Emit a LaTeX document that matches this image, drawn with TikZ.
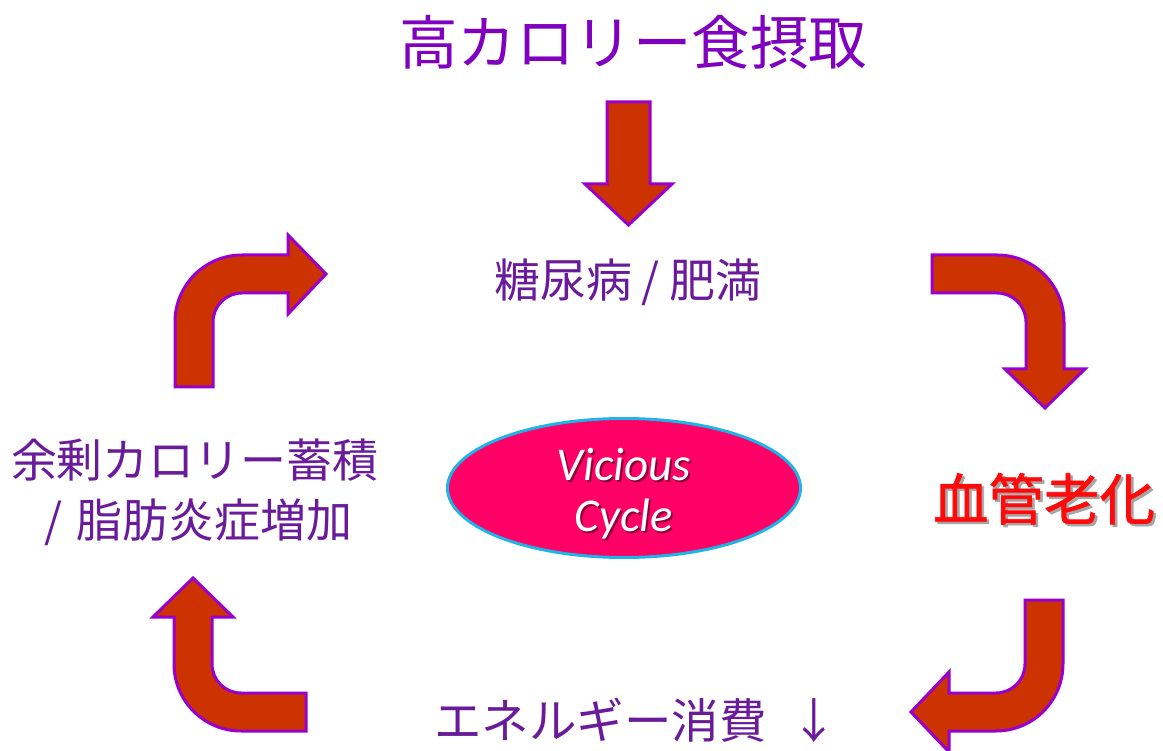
\documentclass[tikz,border=0pt]{standalone}
\usepackage{fontspec}
\usetikzlibrary{shapes.geometric}
\newfontfamily\jpfont{Noto Sans CJK JP}
\newfontfamily\jpbold[FakeBold=1.2]{Noto Sans CJK JP}
\newfontfamily\carlitofont{Carlito}
\definecolor{titlepurple}{HTML}{8000C0}
\definecolor{txtpurple}{HTML}{6A1B9A}
\definecolor{arrowred}{HTML}{CC3300}
\definecolor{arrowedge}{HTML}{9900CC}
\definecolor{ellfill}{HTML}{FF0066}
\definecolor{ellborder}{HTML}{1EB4E8}
\definecolor{redtxt}{HTML}{FF0A0A}
\newcommand{\shadowtext}[3]{\makebox[0pt][l]{\raisebox{-#1}{\hspace{#1}\textcolor{#2}{#3}}}#3}
\tikzset{
  blockarrow/.style={fill=arrowred, draw=arrowedge, line width=3pt, line join=miter},
  purpletext/.style={inner sep=0pt, text=txtpurple, font=\jpfont\fontsize{46}{60}\selectfont, align=center},
}
\begin{document}
\begin{tikzpicture}[x=1pt,y=-1pt]
\useasboundingbox (0,0) rectangle (1163,751);

% title
\node[inner sep=0pt, text=titlepurple, font=\jpfont\fontsize{58.5}{70}\selectfont] (title) at (633,42) {高カロリー食摂取};

% down arrow
\draw[blockarrow] (607,102) -- (650,102) -- (650,184) -- (672,184) -- (628.5,225) -- (585,184) -- (607,184) -- cycle;

% middle top text
\node[purpletext] (top) at (628,282) {糖尿病\hspace{0.2em}/\hspace{0.2em}肥満};

% top right arrow
\draw[blockarrow] (932,255) -- (997,255) arc[start angle=270,end angle=360,radius=67]
  -- (1064,369) -- (1085,369) -- (1045,408) -- (1005,369) -- (1026,369) -- (1026,322)
  arc[start angle=0,end angle=-90,radius=29] -- (932,293) -- cycle;

% red text
\node[inner sep=0pt, text=redtxt, font=\jpbold\fontsize{55.5}{66}\selectfont] (red) at (1044,500) {\shadowtext{2.5pt}{black!35}{血管老化}};

% bottom right arrow
\draw[blockarrow] (1025,600) -- (1063,600) -- (1063,664) arc[start angle=0,end angle=90,radius=67]
  -- (949,731) -- (949,752) -- (911,712) -- (949,672) -- (949,693) -- (996,693)
  arc[start angle=90,end angle=0,radius=29] -- cycle;

% bottom text
\node[purpletext, font=\jpfont\fontsize{47.5}{60}\selectfont, anchor=west] (bottom) at (434,720) {エネルギー消費\hspace{0.5em}↓};

% bottom left arrow
\draw[blockarrow] (306,693) -- (241,693) arc[start angle=90,end angle=180,radius=29]
  -- (212,617) -- (233,617) -- (193,578) -- (153,617) -- (174,617) -- (174,664)
  arc[start angle=180,end angle=90,radius=67] -- (306,731) -- cycle;

% left text
\node[purpletext] (left) at (195,492) {余剰カロリー蓄積\\\hspace{0.15em}/\hspace{0.3em}脂肪炎症増加};

% top left arrow
\draw[blockarrow] (175,387) -- (175,322) arc[start angle=180,end angle=270,radius=67]
  -- (288,255) -- (288,235) -- (326,274) -- (288,314) -- (288,293) -- (242,293)
  arc[start angle=270,end angle=180,radius=29] -- (213,387) -- cycle;

% ellipse
\node[ellipse, fill=ellfill, draw=ellborder, line width=3pt, minimum width=353pt, minimum height=139pt, inner sep=0pt] (vc) at (624,488) {};
\node[inner sep=0pt, text=white, font=\carlitofont\itshape\fontsize{47}{55}\selectfont] (vic) at (624,466) {\shadowtext{2pt}{black!45!ellfill}{Vicious}};
\node[inner sep=0pt, text=white, font=\carlitofont\itshape\fontsize{47}{55}\selectfont] (cyc) at (624,520) {\shadowtext{2pt}{black!45!ellfill}{Cycle}};
\end{tikzpicture}
\end{document}
